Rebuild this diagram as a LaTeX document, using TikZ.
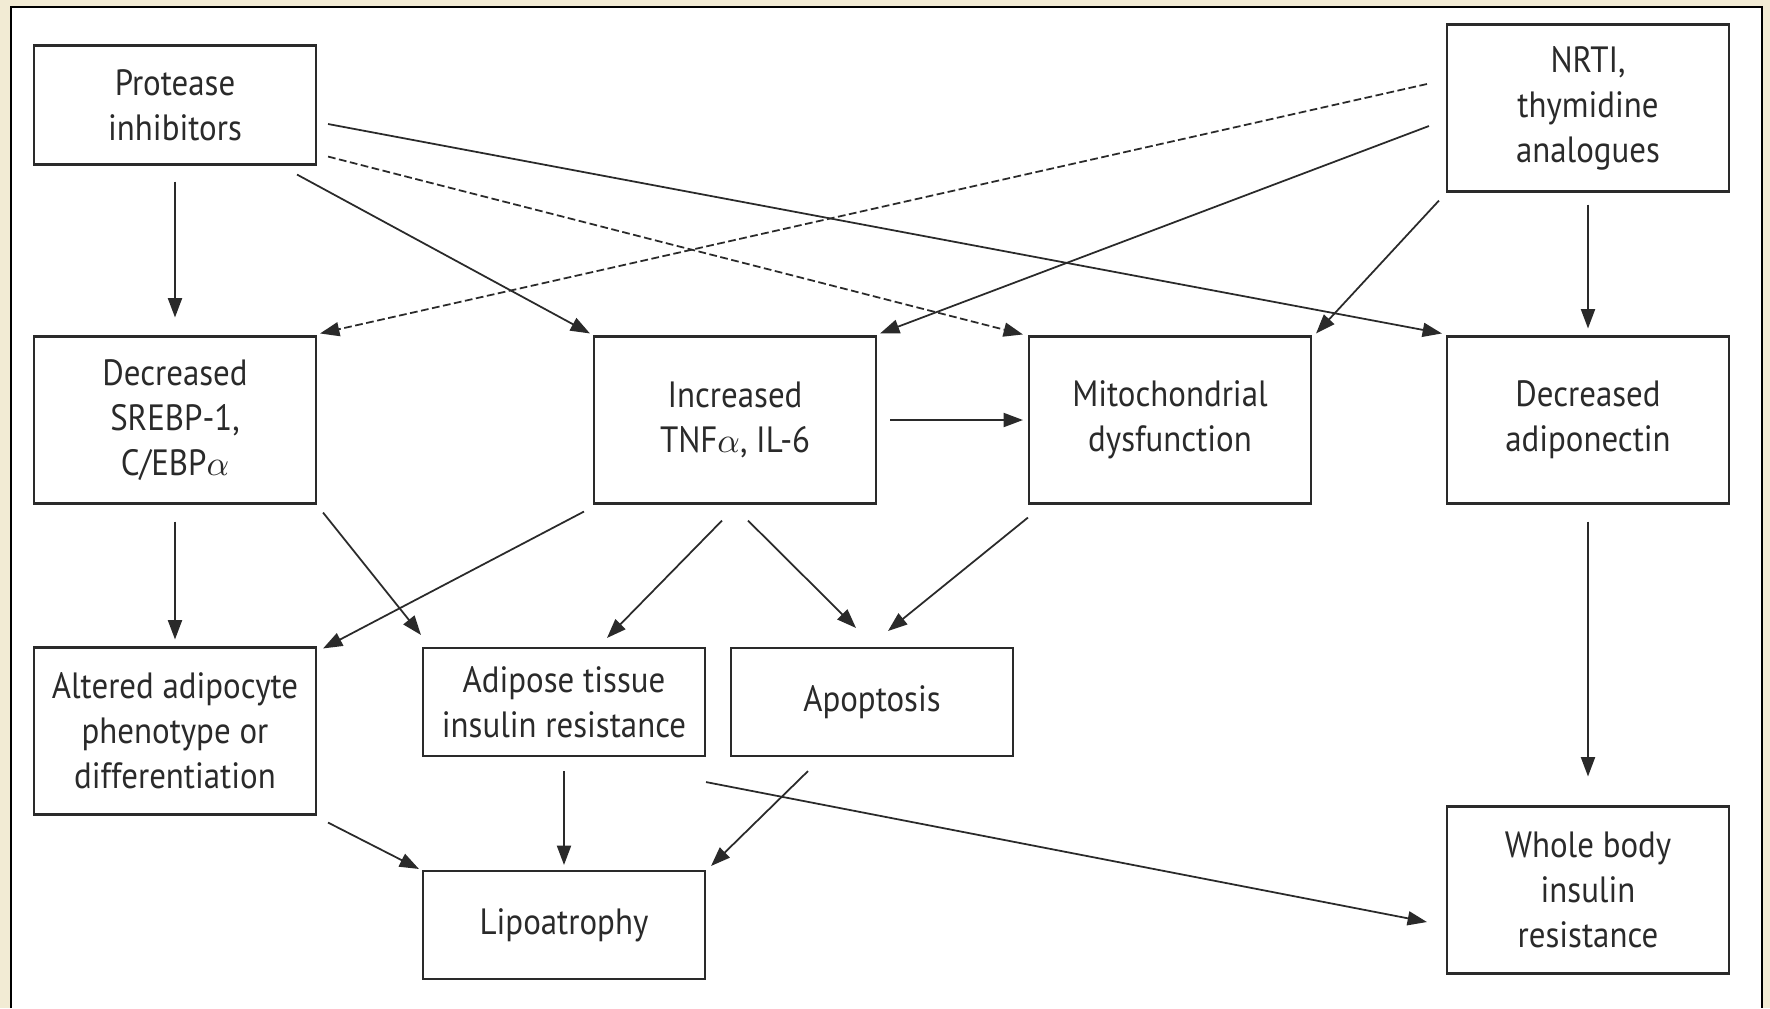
\documentclass[tikz,border=0pt]{standalone}
\usepackage{fontspec}
\setmainfont{PT Sans}[FakeStretch=0.9]
\usepackage{tikz}
\usetikzlibrary{arrows.meta}
\definecolor{pageBg}{HTML}{F2EBD4}
\definecolor{inkDark}{HTML}{2A2A2A}

\tikzset{
  box/.style={draw=inkDark, line width=0.6pt, fill=white, align=center,
              minimum width=28.2mm, inner sep=2pt, text=inkDark,
              font=\fontsize{10.4}{12.8}\selectfont},
  tallbox/.style={box, minimum height=16.7mm},
  midbox/.style={box, minimum height=11.9mm},
  lowbox/.style={box, minimum height=10.8mm},
  link/.style={draw=inkDark, line width=0.5pt, -{Triangle[length=5.5pt,width=4pt]}},
  dashlink/.style={link, dash pattern=on 2.2pt off 1pt},
}

\begin{document}
\begin{tikzpicture}[x=0.1mm, y=-0.1mm]
  \useasboundingbox (0,0) rectangle (1770,1008);
  % page and panel
  \fill[pageBg] (0,0) rectangle (1770,1008);
  \fill[white] (11,7) rectangle (1762,1008);
  \draw[black, line width=0.8pt] (11,1008) -- (11,7) -- (1762,7) -- (1762,1008);

  % boxes
  \node[midbox]  (prot)  at (175,105)  {Protease\\inhibitors};
  \node[tallbox] (nrti)  at (1588,108) {NRTI,\\thymidine\\analogues};
  \node[tallbox] (srebp) at (175,420)  {Decreased\\SREBP-1,\\C/EBP$\alpha$};
  \node[tallbox] (tnf)   at (735,420)  {Increased\\TNF$\alpha$, IL-6};
  \node[tallbox] (mito)  at (1170,420) {Mitochondrial\\dysfunction};
  \node[tallbox] (adipo) at (1588,420) {Decreased\\adiponectin};
  \node[tallbox] (alt)   at (175,731)  {Altered adipocyte\\phenotype or\\differentiation};
  \node[lowbox]  (atir)  at (564,702)  {Adipose tissue\\insulin resistance};
  \node[lowbox]  (apop)  at (872,702)  {Apoptosis};
  \node[lowbox]  (lipo)  at (564,925)  {Lipoatrophy};
  \node[tallbox] (whole) at (1588,890) {Whole body\\insulin\\resistance};

  % from protease inhibitors
  \draw[link, shorten <=1.6mm, shorten >=1.8mm] (prot) -- (srebp);
  \draw[link] ([shift={(-20,9)}]prot.south east) -- ([shift={(-3,-2)}]tnf.north west);
  \draw[link] ([shift={(11,19)}]prot.east) -- ([shift={(-4,-2)}]adipo.north west);
  \draw[dashlink] ([shift={(11,-9)}]prot.south east) -- ([shift={(-5,-1)}]mito.north west);

  % from NRTI
  \draw[dashlink] ([shift={(-19,-24)}]nrti.west) -- ([shift={(3,-2)}]srebp.north east);
  \draw[link] ([shift={(-17,18)}]nrti.west) -- ([shift={(3,-2)}]tnf.north east);
  \draw[link] ([shift={(-7,8)}]nrti.south west) -- ([shift={(4,-2)}]mito.north east);
  \draw[link, shorten <=1.2mm, shorten >=0.7mm] (nrti) -- (adipo);

  % middle row
  \draw[link, shorten <=1.3mm, shorten >=0.5mm] (tnf) -- (mito);
  \draw[link, shorten <=1.7mm, shorten >=0.7mm] (srebp) -- (alt);
  \draw[link] ([shift={(6,8)}]srebp.south east) -- ([shift={(-1,-12)}]atir.north west);
  \draw[link] ([shift={(-9,7)}]tnf.south west) -- ([shift={(6,2)}]alt.north east);
  \draw[link] ([shift={(-13,16)}]tnf.south) -- ([shift={(43,-9)}]atir.north);
  \draw[link] ([shift={(13,16)}]tnf.south) -- ([shift={(-16,-19)}]apop.north);
  \draw[link] ([shift={(0,13)}]mito.south west) -- ([shift={(16,-16)}]apop.north);
  \draw[link, shorten <=1.7mm, shorten >=2.9mm] (adipo) -- (whole);

  % towards lipoatrophy
  \draw[link] ([shift={(11,7)}]alt.south east) -- ([shift={(-3,-1)}]lipo.north west);
  \draw[link, shorten <=1.4mm, shorten >=0.5mm] (atir) -- (lipo);
  \draw[link] ([shift={(-64,14)}]apop.south) -- ([shift={(5,-4)}]lipo.north east);
  \draw[link] ([shift={(0,25)}]atir.south east) -- ([shift={(-19,32)}]whole.west);
\end{tikzpicture}
\end{document}
